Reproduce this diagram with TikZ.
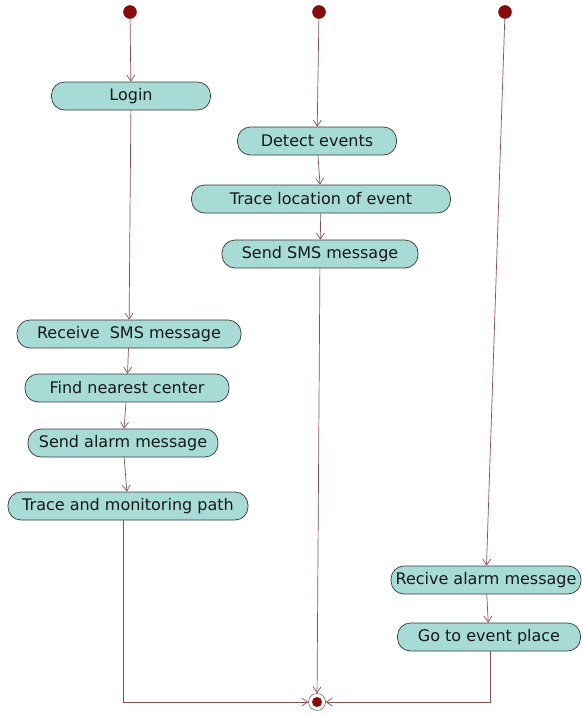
\documentclass[tikz,border=0pt]{standalone}
\usepackage{fontspec}
\setmainfont{DejaVu Sans}
\usetikzlibrary{arrows.meta}
\definecolor{actfill}{HTML}{A6DBD6}
\definecolor{actline}{HTML}{3A3A3A}
\definecolor{flow}{HTML}{8A5050}
\definecolor{dot}{HTML}{8B0A0A}
\begin{document}
\begin{tikzpicture}[x=1pt,y=-1pt,
  act/.style={draw=actline,line width=0.7pt,fill=actfill,rounded corners=13pt,minimum height=28pt,
    inner sep=0pt,font=\fontsize{16}{18}\selectfont,text=black!90},
  startdot/.style={circle,fill=dot,draw=dot!70!black,minimum size=13pt,inner sep=0pt},
  flowarr/.style={draw=flow,line width=0.7pt,-{Straight Barb[length=6pt,width=8pt]}}]
\useasboundingbox (0,0) rectangle (583,715);
% start nodes
\node[startdot] (s1) at (130,12) {};
\node[startdot] (s2) at (319,12) {};
\node[startdot] (s3) at (505,12) {};
% column 1
\node[act,minimum width=159pt] (login) at (131,96) {Login};
\node[act,minimum width=224pt] (recv) at (129,334) {Receive\ \ SMS message};
\node[act,minimum width=204pt] (find) at (127,388) {Find nearest center};
\node[act,minimum width=190pt] (alarm) at (123,443) {Send alarm message};
\node[act,minimum width=240pt] (trace) at (128,506) {Trace and monitoring path};
% column 2
\node[act,minimum width=159pt] (detect) at (317,141) {Detect events};
\node[act,minimum width=259pt] (tloc) at (321,199) {Trace location of event};
\node[act,minimum width=196pt] (sms) at (320,254) {Send SMS message};
% column 3
\node[act,minimum width=190pt] (ralarm) at (486,580) {Recive alarm message};
\node[act,minimum width=183pt] (go) at (489,637) {Go to event place};
% end node
\node[circle,draw=actline,fill=white,minimum size=17pt,inner sep=0pt] (end) at (317,702) {};
\node[circle,fill=dot,minimum size=10pt,inner sep=0pt] at (end) {};
% flows
\draw[flowarr] (s1) -- (login);
\draw[flowarr] (login) -- (recv);
\draw[flowarr] (recv) -- (find);
\draw[flowarr] (find) -- (alarm);
\draw[flowarr] (alarm) -- (trace);
\draw[flowarr] (s2) -- (detect);
\draw[flowarr] (detect) -- (tloc);
\draw[flowarr] (tloc) -- (sms);
\draw[flowarr] (sms) -- (end);
\draw[flowarr] (s3) -- (ralarm);
\draw[flowarr] (ralarm) -- (go);
\draw[flowarr] (trace.south) ++(-5,0) coordinate (tl) -- (tl |- end) -- (end);
\draw[flowarr] (go.south) ++(1,0) coordinate (gr) -- (gr |- end) -- (end);
\end{tikzpicture}
\end{document}
